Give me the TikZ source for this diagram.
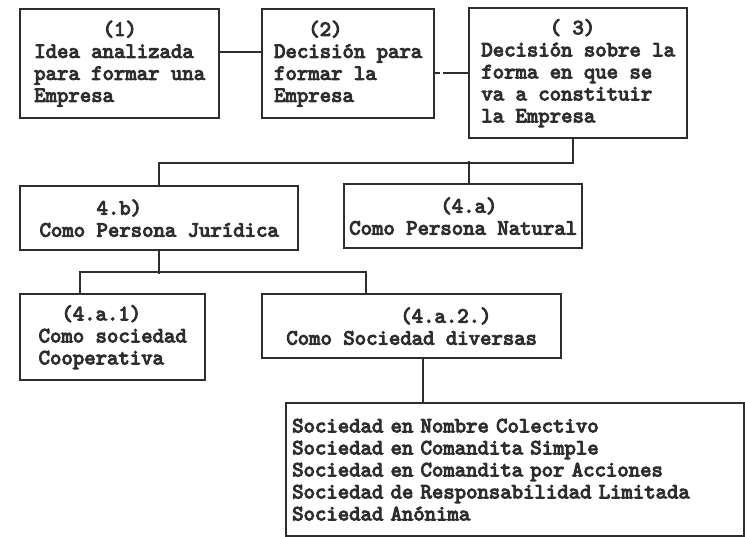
\documentclass[tikz,border=0pt]{standalone}
\usepackage{fontspec}
\usetikzlibrary{positioning}
\newfontfamily\boxfont{lmmono10-regular.otf}[FakeBold=4.5]
\definecolor{ink}{HTML}{2E2E2E}
\newcommand{\indch}[1]{\hspace*{#1\fontcharwd\font`0}}

\begin{document}
\begin{tikzpicture}[x=1pt,y=-1pt,
  box/.style={draw=ink, line width=2.4pt, anchor=north west, align=left, inner sep=0pt,
    text=ink, font=\boxfont\fontsize{21.7}{22}\selectfont},
  wire/.style={draw=ink, line width=1.8pt}]
\useasboundingbox[fill=white] (0,0) rectangle (745,537);
% first row
\node[box, minimum width=199pt, minimum height=109pt] (idea) at (19,8)
  {\indch{6}(1)\\Idea analizada\\para formar una\\Empresa};
\node[box, minimum width=172pt, minimum height=109pt] (decision) at (261,8)
  {\indch{3}(2)\\Decisión para\\formar la\\Empresa};
\node[box, minimum width=218pt, minimum height=130pt] (forma) at (468,7)
  {\indch{6}( 3)\\Decisión sobre la\\forma en que se\\va a constituir\\la Empresa};
% second row
\node[box, minimum width=278pt, minimum height=64pt] (juridica) at (19,185)
  {\indch{5}4.b)\\Como Persona Jurídica};
\node[box, minimum width=238pt, minimum height=64pt] (natural) at (343,183)
  {\indch{8}(4.a)\\Como Persona Natural};
% third row
\node[box, minimum width=185pt, minimum height=86pt] (coop) at (19,293)
  {\indch{2}(4.a.1)\\Como sociedad\\Cooperativa};
\node[box, minimum width=299pt, minimum height=64pt] (diversas) at (261,293)
  {\indch{10}(4.a.2.)\\Como Sociedad diversas};
% list of societies
\node[box, text width=446pt, inner xsep=6pt, minimum height=133pt] (tipos) at (285,402)
  {Sociedad en Nombre Colectivo\\Sociedad en Comandita Simple\\Sociedad en Comandita por Acciones\\Sociedad de Responsabilidad Limitada\\Sociedad Anónima};
% connectors
\draw[wire] ([yshift=11.5pt]idea.east) -- ([yshift=11.5pt]idea.east -| decision.west);
\draw[wire, dash pattern=on 5pt off 3pt on 30pt] (forma.west -| decision.east) -- (forma.west);
\draw[wire] ([xshift=-5pt]forma.south) -- ++(0,24) -| (juridica.north);
\draw[wire] ([xshift=6pt]natural.north) -- ++(0,-22);
\draw[wire] (juridica.south) -- ++(0,23);
\draw[wire] ([xshift=-32.5pt]coop.north) -- ++(0,-21) -| ([xshift=-45.5pt]diversas.north);
\draw[wire] ([xshift=11.5pt]diversas.south) -- ([xshift=11.5pt]diversas.south |- tipos.north);
\end{tikzpicture}
\end{document}
